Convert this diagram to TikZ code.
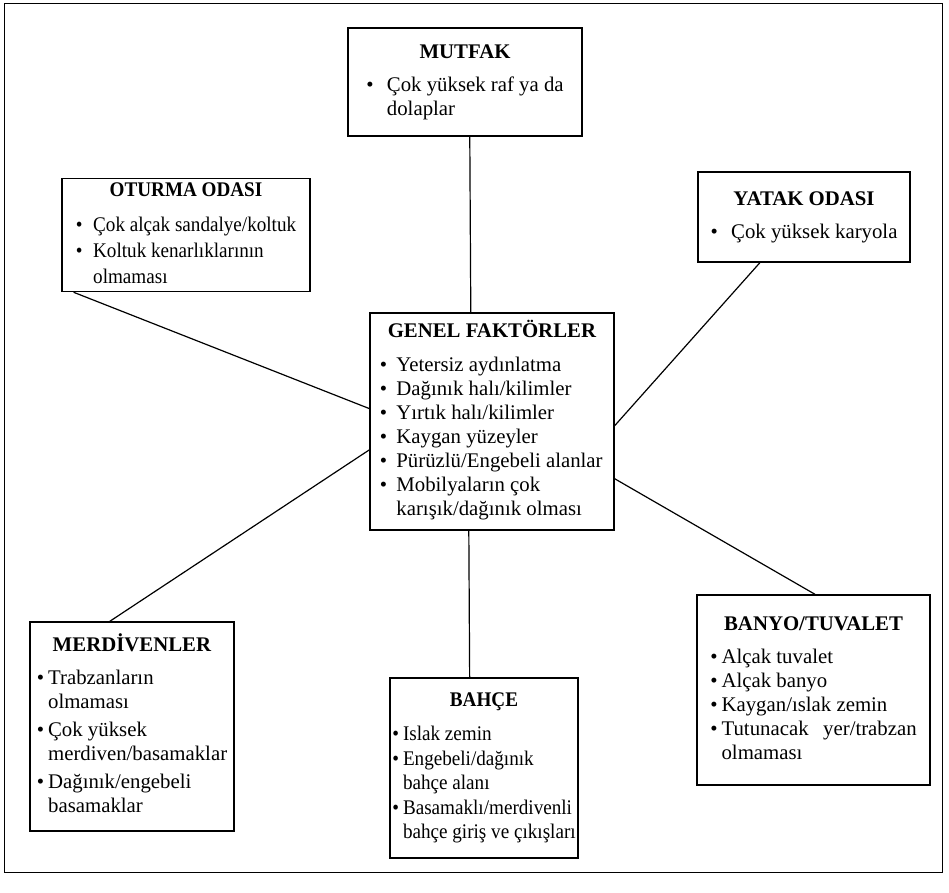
\documentclass[tikz,border=0pt]{standalone}
\usepackage{fontspec}
\setmainfont{Liberation Serif}
\usetikzlibrary{positioning}

% box text: title centred, then bullet rows
\newcommand{\oda}[3][10pt]{\begin{tabular}{@{}l@{\hspace{#1}}l@{}}%
  \multicolumn{2}{c}{\textbf{#2}}\\[7pt]#3\end{tabular}}

\begin{document}
\begin{tikzpicture}[x=0.75pt, y=-0.75pt, font=\fontsize{15.6}{18}\selectfont,
    kutu/.style={draw, line width=0.9pt, inner sep=0pt},
    dar/.style={font={\fontsize{15.6}{#1}\selectfont\addfontfeature{FakeStretch=0.92}}},
    bag/.style={line width=0.9pt}]
  \useasboundingbox (0,0) rectangle (949,892);
  \draw[line width=0.6pt] (4,3) rectangle (942,872);
  \node[kutu, minimum width=175.5pt, minimum height=81pt] (mutfak) at (465,82)
    {\oda{MUTFAK}{•&Çok yüksek raf ya da\\&dolaplar}};%
  \node[kutu, dar=19.5, minimum width=186pt, minimum height=82.5pt] (oturma) at (186,235)
    {\oda[8pt]{OTURMA ODASI}{•&Çok alçak sandalye/koltuk\\•&Koltuk kenarlıklarının\\&olmaması}};%
  \node[kutu, minimum width=159pt, minimum height=67.5pt] (yatak) at (804,217)
    {\oda{YATAK ODASI}{•&Çok yüksek karyola}};%
  \node[kutu, minimum width=183pt, minimum height=162.75pt] (genel) at (492,421.5)
    {\oda[7pt]{GENEL FAKTÖRLER}{•&Yetersiz aydınlatma\\•&Dağınık halı/kilimler\\
      •&Yırtık halı/kilimler\\•&Kaygan yüzeyler\\•&Pürüzlü/Engebeli alanlar\\
      •&Mobilyaların çok\\&karışık/dağınık olması}};%
  \node[kutu, minimum width=153pt, minimum height=156.75pt] (merdiven) at (132,726.5)
    {\oda[3pt]{MERDİVENLER}{•&Trabzanların\\&olmaması\\[3pt]•&Çok yüksek\\
      &merdiven/basamaklar\\[3pt]•&Dağınık/engebeli\\&basamaklar}};%
  \node[kutu, dar=18.4, minimum width=141pt, minimum height=135pt] (bahce) at (484,768)
    {\oda[3pt]{BAHÇE}{•&Islak zemin\\•&Engebeli/dağınık\\&bahçe alanı\\
      •&Basamaklı/merdivenli\\&bahçe giriş ve çıkışları}};%
  \node[kutu, minimum width=174.75pt, minimum height=142.5pt] (banyo) at (813.5,690)
    {\oda[3pt]{BANYO/TUVALET}{•&Alçak tuvalet\\•&Alçak banyo\\•&Kaygan/ıslak zemin\\
      •&Tutunacak\hspace{0.7em}yer/trabzan\\&olmaması}};%
  \path[bag] (mutfak.275) edge (genel.101)
             (oturma.207) edge (genel.174)
             (yatak.226) edge (genel.358)
             (merdiven.102) edge (genel.193)
             (banyo.89) edge (genel.335)
             (bahce.99) edge (genel.258);%
\end{tikzpicture}
\end{document}
